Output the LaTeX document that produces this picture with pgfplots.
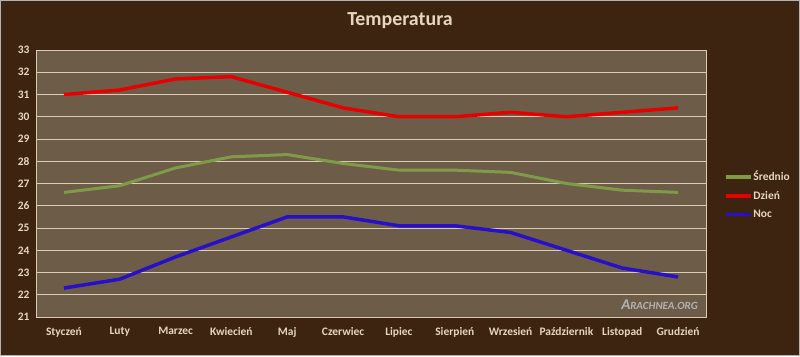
\documentclass[border=0pt]{standalone}
\usepackage{pgfplots}
\pgfplotsset{compat=1.18}
\usepackage{fontspec}
\setmainfont{Carlito}
\definecolor{bgbrown}{HTML}{3D2410}
\definecolor{plotbg}{HTML}{6D5D48}
\definecolor{gridc}{HTML}{D9CBB4}
\definecolor{txtc}{HTML}{E6D6BE}
\definecolor{cgreen}{HTML}{7F9B48}
\definecolor{cred}{HTML}{E60000}
\definecolor{cblue}{HTML}{2810C8}
\begin{document}
\begin{tikzpicture}[x=1bp,y=1bp]
\fill[bgbrown] (0,0) rectangle (800,356);
\draw[gray!60, line width=1bp] (0.5,0.5) rectangle (799.5,355.5);
\node[font=\bfseries\fontsize{20}{22}\selectfont, text=txtc] at (400,335) {Temperatura};
\begin{axis}[
  at={(36bp,39bp)}, anchor=south west,
  scale only axis, width=670bp, height=267bp,
  xmin=-0.5, xmax=11.5, ymin=21, ymax=33,
  xtick={0,...,11},
  xticklabels={Styczeń,Luty,Marzec,Kwiecień,Maj,Czerwiec,Lipiec,Sierpień,Wrzesień,Październik,Listopad,Grudzień},
  ytick={21,...,33},
  major tick length=0,
  ymajorgrids, grid style={gridc, line width=0.8bp},
  axis background/.style={fill=plotbg},
  axis line style={gridc, line width=0.8bp},
  tick label style={font=\bfseries\fontsize{11.5}{13}\selectfont, text=txtc},
  xticklabel style={yshift=-7bp},
  yticklabel style={xshift=-3bp},
  /pgf/number format/assume math mode=true,
  legend style={at={(1.022,0.457)}, anchor=west, draw=none, fill=none,
    font=\bfseries\fontsize{11.5}{13}\selectfont, text=txtc, row sep=5bp,
    nodes={inner xsep=1bp}},
  legend cell align=left,
  legend image code/.code={\draw[#1, line width=3.5bp] (0bp,0bp) -- (25bp,0bp);},
]
\addplot[cgreen, line width=3bp] coordinates {(0,26.6)(1,26.9)(2,27.7)(3,28.2)(4,28.3)(5,27.9)(6,27.6)(7,27.6)(8,27.5)(9,27.0)(10,26.7)(11,26.6)};
\addlegendentry{Średnio}
\addplot[cred, line width=3.5bp] coordinates {(0,31.0)(1,31.2)(2,31.7)(3,31.8)(4,31.1)(5,30.4)(6,30.0)(7,30.0)(8,30.2)(9,30.0)(10,30.2)(11,30.4)};
\addlegendentry{Dzień}
\addplot[cblue, line width=3.5bp] coordinates {(0,22.3)(1,22.7)(2,23.7)(3,24.6)(4,25.5)(5,25.5)(6,25.1)(7,25.1)(8,24.8)(9,24.0)(10,23.2)(11,22.8)};
\addlegendentry{Noc}
\end{axis}
\node[font=\bfseries\itshape, text=gray!60, anchor=east, inner sep=0] at (698,51) {{\fontsize{15}{16}\selectfont A}{\fontsize{11}{12}\selectfont RACHNEA.ORG}};
\end{tikzpicture}
\end{document}
